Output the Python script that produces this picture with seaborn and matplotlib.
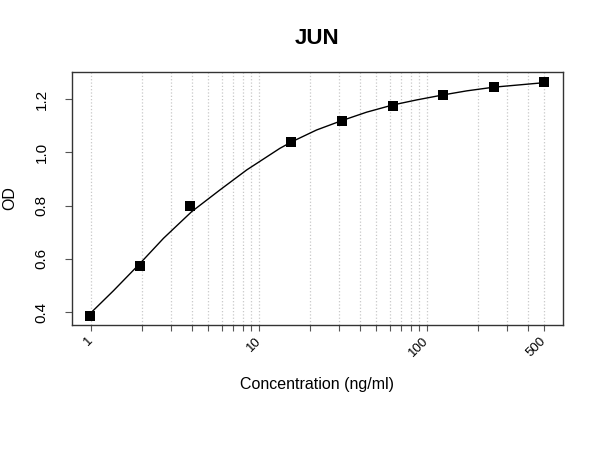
import matplotlib
matplotlib.use("Agg")
import matplotlib.pyplot as plt
from matplotlib.ticker import FixedLocator, NullFormatter, FixedFormatter
import seaborn as sns

# standard points (ng/ml vs OD)
conc = [0.98, 1.95, 3.9, 15.6, 31.25, 62.5, 125, 250, 500]
od = [0.386, 0.573, 0.800, 1.039, 1.117, 1.174, 1.214, 1.244, 1.265]

# fitted curve
curve_x = [0.98, 1.36, 1.96, 2.7, 3.97, 5.86, 8.45, 13.3, 15.7, 22, 31,
           43.7, 62.5, 86.7, 125, 172, 250, 500]
curve_y = [0.392, 0.48, 0.583, 0.677, 0.777, 0.859, 0.934, 1.015, 1.040,
           1.084, 1.119, 1.151, 1.178, 1.197, 1.216, 1.231, 1.245, 1.262]

major_x = [1, 10, 100, 500]
minor_x = [2, 3, 4, 5, 6, 7, 8, 9, 20, 30, 40, 50, 60, 70, 80, 90, 200, 300, 400]
y_ticks = [0.4, 0.6, 0.8, 1.0, 1.2]

sns.set_style("white")
plt.rcParams['font.family'] = ['Liberation Sans', 'DejaVu Sans']
plt.rcParams.update({'text.color': 'black', 'axes.labelcolor': 'black',
                     'xtick.color': 'black', 'ytick.color': 'black'})

fig = plt.figure(figsize=(6, 4.5), dpi=100)
ax = fig.add_axes([72 / 600, 1 - 325 / 450, 491 / 600, 253 / 450])

sns.lineplot(x=curve_x, y=curve_y, ax=ax, color='black', lw=1.0, sort=False)
sns.scatterplot(x=conc, y=od, ax=ax, marker='s', s=62, color='black',
                edgecolor='black', linewidth=0, zorder=3)

ax.set_xscale('log')
ax.set_xlim(0.77, 645)
ax.set_ylim(0.351, 1.302)

ax.xaxis.set_major_locator(FixedLocator(major_x))
ax.xaxis.set_major_formatter(FixedFormatter([str(v) for v in major_x]))
ax.xaxis.set_minor_locator(FixedLocator(minor_x))
ax.xaxis.set_minor_formatter(NullFormatter())
ax.set_yticks(y_ticks)
ax.set_yticklabels([f"{v:.1f}" for v in y_ticks], rotation=90, va='center')

ax.grid(axis='x', which='both', ls=':', color='#c8c8c8', lw=0.9)
ax.set_axisbelow(True)

for sp in ax.spines.values():
    sp.set_color('#333333')
    sp.set_linewidth(1.0)

ax.tick_params(axis='x', which='both', direction='out', length=4,
               width=0.8, color='#555555', bottom=True, pad=6)
ax.tick_params(axis='x', which='major', labelsize=9.5, labelcolor='black')
ax.tick_params(axis='y', direction='out', length=5, width=0.8,
               color='#555555', left=True, labelsize=11, pad=12,
               labelcolor='black')
for lab in ax.get_xticklabels():
    lab.set_rotation(45)
    lab.set_ha('right')
    lab.set_va('center')
    lab.set_rotation_mode('anchor')

ax.set_xlabel('Concentration (ng/ml)', fontsize=11.5, color='black')
ax.set_ylabel('OD', fontsize=11.5, color='black')
ax.xaxis.set_label_coords(0.5, -0.205)
ax.yaxis.set_label_coords(-0.112, 0.5)

fig.text(317.5 / 600, 1 - 44 / 450, 'JUN', ha='center', va='baseline',
         fontsize=16, fontweight='bold', color='black')

fig.savefig('out.png', dpi=100)
